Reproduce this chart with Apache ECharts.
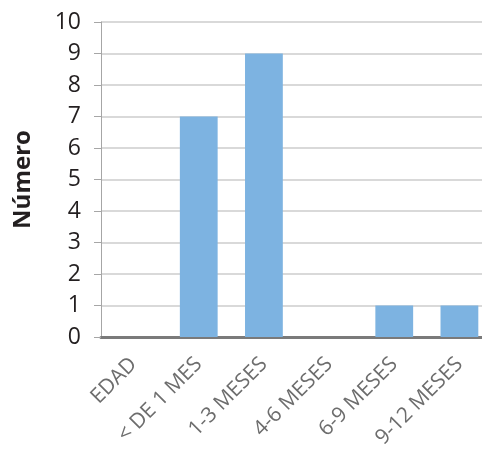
<!DOCTYPE html>
<html>
<head>
<meta charset="utf-8">
<script src="https://cdn.jsdelivr.net/npm/echarts@6/dist/echarts.min.js"></script>
<style>html,body{margin:0;padding:0;background:#fff;}#c{width:482px;height:450px;}</style>
</head>
<body>
<div id="c"></div>
<script>
var categories = ["EDAD", "< DE 1 MES", "1-3 MESES", "4-6 MESES", "6-9 MESES", "9-12 MESES"];
var values = [0, 7, 9, 0, 1, 1];
var yTicks = [0, 1, 2, 3, 4, 5, 6, 7, 8, 9, 10];
var yName = "Número";

var chart = echarts.init(document.getElementById('c'));
chart.setOption({
  animation: false,
  grid: {left: 101, right: -10, top: 22, bottom: 113, containLabel: false, outerBoundsMode: 'none'},
  xAxis: {
    type: 'category',
    data: categories,
    axisLine: {show: true, lineStyle: {color: '#7a7a7a', width: 3}},
    axisTick: {show: false},
    axisLabel: {rotate: 45, margin: 24, color: '#6d6d6d', fontSize: 21, fontFamily: 'Open Sans', interval: 0}
  },
  yAxis: {
    type: 'value',
    min: yTicks[0], max: yTicks[yTicks.length - 1], interval: 1,
    name: yName,
    nameLocation: 'middle',
    nameGap: 66,
    nameRotate: 90,
    nameTextStyle: {fontSize: 24, fontWeight: 'bold', color: '#231f20', fontFamily: 'Open Sans'},
    axisLine: {show: true, lineStyle: {color: '#a6a6a6', width: 1}},
    axisTick: {show: true, length: 7, lineStyle: {color: '#a6a6a6'}},
    axisLabel: {margin: 20, color: '#231f20', fontSize: 23, fontFamily: 'Open Sans'},
    splitLine: {show: true, lineStyle: {color: '#cccccc', width: 1.5}}
  },
  series: [{
    type: 'bar',
    data: values,
    barWidth: '58%',
    itemStyle: {color: '#7db3e1'}
  }]
});
</script>
</body>
</html>
